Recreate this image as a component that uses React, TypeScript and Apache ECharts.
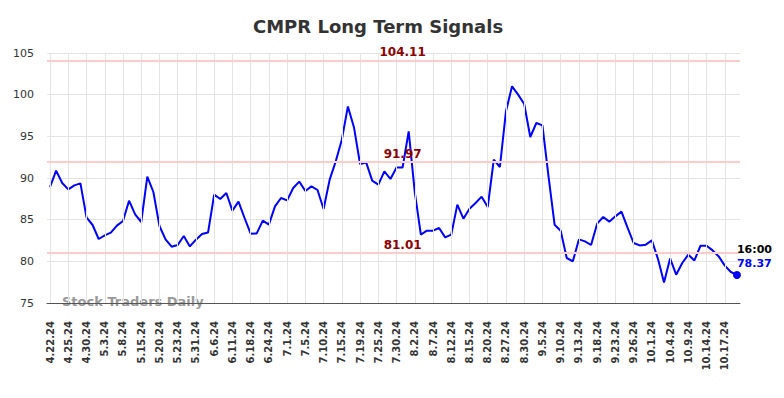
import React, { useEffect, useRef } from "react";
import * as echarts from "echarts";

const dates: string[] = [
  "4.22.24", "4.23.24", "4.24.24",
  "4.25.24", "4.26.24", "4.29.24",
  "4.30.24", "5.1.24", "5.2.24",
  "5.3.24", "5.6.24", "5.7.24",
  "5.8.24", "5.9.24", "5.13.24",
  "5.15.24", "5.16.24", "5.17.24",
  "5.20.24", "5.21.24", "5.22.24",
  "5.23.24", "5.28.24", "5.30.24",
  "5.31.24", "6.3.24", "6.5.24",
  "6.6.24", "6.7.24", "6.10.24",
  "6.11.24", "6.13.24", "6.17.24",
  "6.18.24", "6.20.24", "6.21.24",
  "6.24.24", "6.26.24", "6.28.24",
  "7.1.24", "7.2.24", "7.3.24",
  "7.5.24", "7.8.24", "7.9.24",
  "7.10.24", "7.11.24", "7.12.24",
  "7.15.24", "7.16.24", "7.18.24",
  "7.19.24", "7.22.24", "7.24.24",
  "7.25.24", "7.26.24", "7.29.24",
  "7.30.24", "7.31.24", "8.1.24",
  "8.2.24", "8.5.24", "8.6.24",
  "8.7.24", "8.8.24", "8.9.24",
  "8.12.24", "8.13.24", "8.14.24",
  "8.15.24", "8.16.24", "8.19.24",
  "8.20.24", "8.22.24", "8.26.24",
  "8.27.24", "8.28.24", "8.29.24",
  "8.30.24", "9.3.24", "9.4.24",
  "9.5.24", "9.6.24", "9.9.24",
  "9.10.24", "9.11.24", "9.12.24",
  "9.13.24", "9.16.24", "9.17.24",
  "9.18.24", "9.19.24", "9.20.24",
  "9.23.24", "9.24.24", "9.25.24",
  "9.26.24", "9.27.24", "9.30.24",
  "10.1.24", "10.2.24", "10.3.24",
  "10.4.24", "10.7.24", "10.8.24",
  "10.9.24", "10.10.24", "10.11.24",
  "10.14.24", "10.15.24", "10.16.24",
  "10.17.24", "10.18.24", "10.21.24",
];

const closes: number[] = [
  88.92, 90.88, 89.4, 88.63, 89.11, 89.35, 85.27, 84.36, 82.68, 83.11,
  83.44, 84.28, 84.84, 87.28, 85.63, 84.72, 90.16, 88.32, 84.24, 82.63,
  81.76, 81.96, 83.04, 81.79, 82.6, 83.28, 83.47, 88.0, 87.48, 88.2,
  86.08, 87.16, 85.2, 83.32, 83.35, 84.88, 84.4, 86.59, 87.6, 87.31,
  88.8, 89.56, 88.44, 89.0, 88.56, 86.28, 89.8, 92.0, 94.6, 98.59,
  96.07, 91.68, 91.87, 89.68, 89.2, 90.8, 89.88, 91.27, 91.27, 95.59,
  88.3, 83.2, 83.68, 83.68, 84.0, 82.87, 83.2, 86.8, 85.12, 86.32,
  87.0, 87.76, 86.52, 92.2, 91.32, 98.0, 101.0, 100.0, 98.88, 94.92,
  96.6, 96.31, 90.2, 84.4, 83.68, 80.4, 80.0, 82.63, 82.4, 81.96,
  84.52, 85.32, 84.76, 85.4, 85.96, 84.04, 82.2, 81.91, 82.0, 82.51,
  80.3, 77.47, 80.35, 78.4, 79.8, 80.8, 80.11, 81.87, 81.87, 81.31,
  80.59, 79.48, 78.72, 78.37,
];

const levels: number[] = [104.11, 91.97, 81.01];
const levelLabelIndex = 58;
const yMin = 75;
const yMax = 105;
const yInterval = 5;
const lastTime = "16:00";
const titleText = "CMPR Long Term Signals";
const watermark = "Stock Traders Daily";

const FONT = "DejaVu Sans";

export default function App() {
  const ref = useRef<HTMLDivElement>(null);

  useEffect(() => {
    if (!ref.current) return;
    const chart = echarts.init(ref.current, null, { renderer: "svg" });
    const lastIdx = closes.length - 1;
    const gridLines = dates
      .map((d, i) => ({ d, i }))
      .filter((o) => o.i % 3 === 0)
      .map((o) => ({
        xAxis: o.d,
        lineStyle: { color: "#e4e4e4", width: 1, type: "solid" },
      }));
    const levelLines = levels.map((v) => ({
      yAxis: v,
      lineStyle: { color: "#ffcccc", width: 2, type: "solid" },
    }));

    chart.setOption({
      animation: false,
      backgroundColor: "#ffffff",
      textStyle: { fontFamily: FONT },
      title: {
        text: titleText,
        left: 248,
        top: 12,
        textStyle: {
          fontSize: 18,
          fontWeight: "bold",
          color: "#333333",
          fontFamily: FONT,
        },
      },
      grid: { left: 47, right: 44, top: 53, bottom: 95 },
      xAxis: {
        type: "category",
        data: dates,
        boundaryGap: true,
        axisLine: { show: true, lineStyle: { color: "#555555", width: 1 } },
        axisTick: { show: false },
        splitLine: { show: false },
        axisLabel: {
          interval: 2,
          rotate: 90,
          margin: 18,
          fontSize: 10,
          fontWeight: "bold",
          color: "#333333",
          fontFamily: FONT,
        },
      },
      yAxis: {
        type: "value",
        min: yMin,
        max: yMax,
        interval: yInterval,
        axisLine: { show: false },
        axisTick: { show: false },
        axisLabel: {
          fontSize: 11,
          color: "#333333",
          margin: 13,
          fontFamily: FONT,
        },
        splitLine: { show: true, lineStyle: { color: "#e4e4e4", width: 1 } },
      },
      graphic: [
        {
          type: "text",
          left: 62,
          top: 295,
          z: 0,
          style: {
            text: watermark,
            fontSize: 13,
            fontWeight: "bold",
            fill: "#999999",
            fontFamily: FONT,
          },
        },
      ],
      series: [
        {
          type: "line",
          data: closes,
          z: 1,
          showSymbol: false,
          silent: true,
          lineStyle: { opacity: 0 },
          markLine: {
            silent: true,
            symbol: ["none", "none"],
            label: { show: false },
            data: [...gridLines, ...levelLines],
          },
          markPoint: {
            silent: true,
            symbol: "circle",
            symbolSize: 0,
            data: levels.map((v) => ({
              coord: [dates[levelLabelIndex], v],
              value: v,
            })),
            label: {
              show: true,
              position: "top",
              distance: 2,
              formatter: (p: any) => Number(p.value).toFixed(2),
              fontSize: 12,
              fontWeight: "bold",
              color: "#8b0000",
              fontFamily: FONT,
            },
          },
        },
        {
          type: "line",
          data: closes,
          z: 3,
          showSymbol: false,
          lineStyle: { color: "#0000ff", width: 2 },
          itemStyle: { color: "#0000ff" },
          markPoint: {
            silent: true,
            symbol: "circle",
            symbolSize: 8,
            itemStyle: { color: "#0000ff" },
            data: [
              {
                coord: [dates[lastIdx], closes[lastIdx]],
                value: closes[lastIdx],
              },
            ],
            label: {
              show: true,
              position: [4, -28],
              formatter: () =>
                `{t|${lastTime}}\n{v|${closes[lastIdx].toFixed(2)}}`,
              rich: {
                t: {
                  fontSize: 11,
                  fontWeight: "bold",
                  color: "#000000",
                  lineHeight: 14,
                  fontFamily: FONT,
                },
                v: {
                  fontSize: 11,
                  fontWeight: "bold",
                  color: "#0000ff",
                  lineHeight: 14,
                  fontFamily: FONT,
                },
              },
            },
          },
        },
      ],
    });

    return () => chart.dispose();
  }, []);

  return (
    <div
      ref={ref}
      style={{ position: "fixed", left: 0, top: 0, width: 784, height: 398 }}
    />
  );
}
